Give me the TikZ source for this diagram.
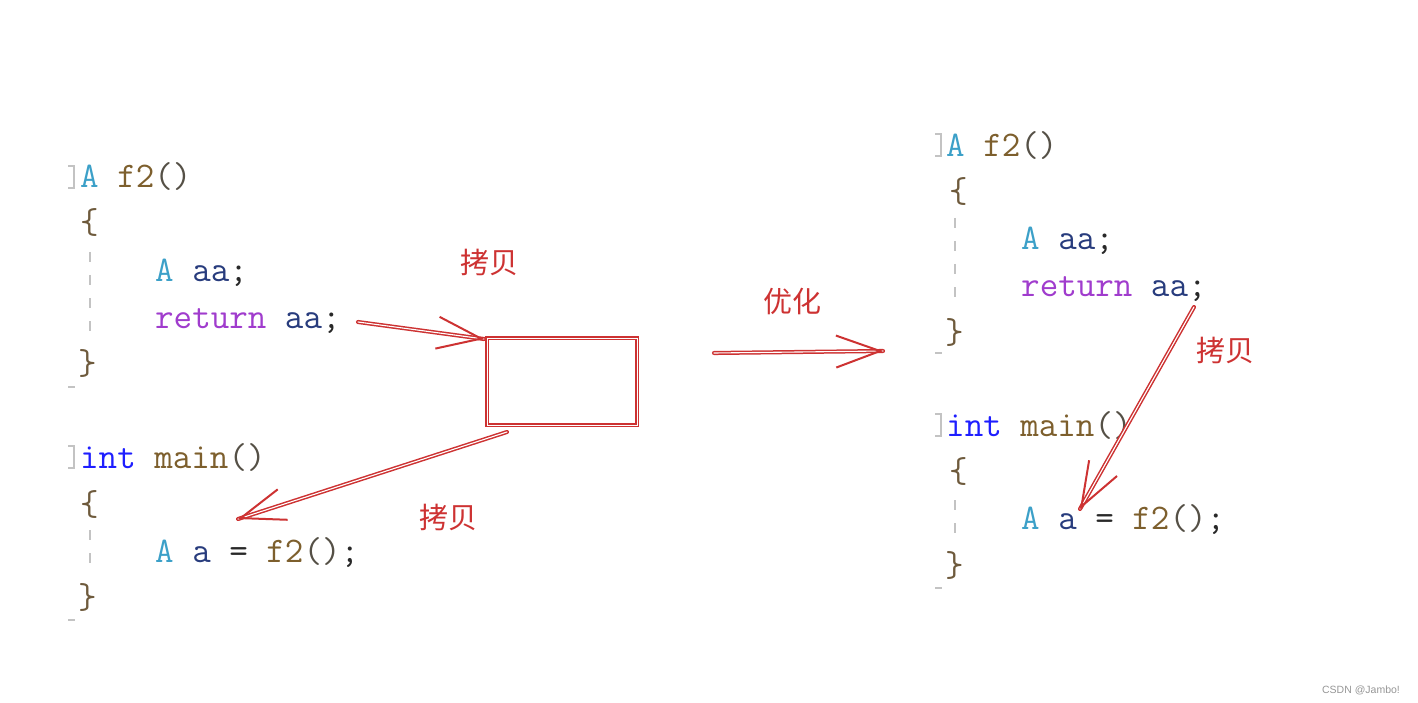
\documentclass[tikz,border=0pt]{standalone}
\usepackage{fontspec}
\newfontfamily\cjk{Noto Sans CJK SC}
\newfontfamily\wmfont{Liberation Sans}
\usetikzlibrary{calc,arrows.meta}
\definecolor{tyc}{RGB}{60,160,200}
\definecolor{fnc}{RGB}{125,95,45}
\definecolor{pc}{RGB}{85,80,70}
\definecolor{vc}{RGB}{40,60,125}
\definecolor{kwc}{RGB}{160,60,205}
\definecolor{intc}{RGB}{30,30,255}
\definecolor{brc}{RGB}{110,90,60}
\definecolor{dk}{RGB}{40,40,40}
\definecolor{gutc}{RGB}{195,195,195}
\definecolor{rd}{RGB}{205,50,50}
\definecolor{wmc}{RGB}{150,150,150}
\tikzset{
  code/.style={anchor=base west, inner sep=0pt, font=\ttfamily\fontsize{36}{36}\selectfont},
  gut/.style={draw=gutc, line width=2.5pt},
  gdash/.style={draw=gutc, line width=2.4pt, dash pattern=on 10pt off 13pt},
  sk/.style={draw=rd, line width=1.5pt, double=white, double distance=1.1pt, line cap=round},
  tipst/.style={draw=rd, line width=2pt, line cap=round, -{Straight Barb[length=44pt,width=32pt,line width=2pt]}},
  lbl/.style={text=rd, font=\cjk\fontsize{29}{29}\selectfont, inner sep=0pt},
  skbox/.style={draw=rd, line width=1.5pt, double=white, double distance=0.6pt, minimum width=150pt, minimum height=87pt, inner sep=0pt},
  wm/.style={text=wmc, font=\wmfont\fontsize{10.5}{10.5}\selectfont, inner sep=0pt},
}
\begin{document}
\begin{tikzpicture}[x=1pt,y=-1pt]
\useasboundingbox (0,0) rectangle (1418,703);
% ---------- left: A f2() ----------
\draw[gut] (68,166) -- (74,166) -- (74,188) -- (68,188);
\node[code] (L1) at (80,188) {\textcolor{tyc}{A} \textcolor{fnc}{f2}\textcolor{pc}{()}};
\node[code] (L2) at (80,234) {\textcolor{brc}{\{}};
\draw[gdash] (90,252) -- (90,340);
\node[code] (L3) at (155,281) {\textcolor{tyc}{A} \textcolor{vc}{aa}\textcolor{dk}{;}};
\node[code] (L4) at (155,328) {\textcolor{kwc}{return} \textcolor{vc}{aa}\textcolor{dk}{;}};
\node[code] (L5) at (78,374) {\textcolor{brc}{\}}};
\draw[gut] (68,387) -- (75,387);
% ---------- left: int main() ----------
\draw[gut] (68,446) -- (74,446) -- (74,468) -- (68,468);
\node[code] (M1) at (80,468) {\textcolor{intc}{int} \textcolor{fnc}{main}\textcolor{pc}{()}};
\node[code] (M2) at (80,515) {\textcolor{brc}{\{}};
\draw[gdash] (90,530) -- (90,575);
\node[code] (M3) at (155,562) {\textcolor{tyc}{A} \textcolor{vc}{a} \textcolor{dk}{=} \textcolor{fnc}{f2}\textcolor{pc}{()}\textcolor{dk}{;}};
\node[code] (M4) at (78,608) {\textcolor{brc}{\}}};
\draw[gut] (68,620) -- (75,620);
% ---------- right: A f2() ----------
\draw[gut] (935,134) -- (941,134) -- (941,156) -- (935,156);
\node[code] (R1) at (946,157) {\textcolor{tyc}{A} \textcolor{fnc}{f2}\textcolor{pc}{()}};
\node[code] (R2) at (949,203) {\textcolor{brc}{\{}};
\draw[gdash] (955,218) -- (955,305);
\node[code] (R3) at (1021,250) {\textcolor{tyc}{A} \textcolor{vc}{aa}\textcolor{dk}{;}};
\node[code] (R4) at (1021,296) {\textcolor{kwc}{return} \textcolor{vc}{aa}\textcolor{dk}{;}};
\node[code] (R5) at (945,343) {\textcolor{brc}{\}}};
\draw[gut] (935,353) -- (942,353);
% ---------- right: int main() ----------
\draw[gut] (935,414) -- (941,414) -- (941,436) -- (935,436);
\node[code] (S1) at (946,436) {\textcolor{intc}{int} \textcolor{fnc}{main}\textcolor{pc}{()}};
\node[code] (S2) at (949,482) {\textcolor{brc}{\{}};
\draw[gdash] (955,500) -- (955,545);
\node[code] (S3) at (1021,529) {\textcolor{tyc}{A} \textcolor{vc}{a} \textcolor{dk}{=} \textcolor{fnc}{f2}\textcolor{pc}{()}\textcolor{dk}{;}};
\node[code] (S4) at (945,576) {\textcolor{brc}{\}}};
\draw[gut] (935,588) -- (942,588);
% ---------- red annotations ----------
\node[skbox] (box) at (562,381.5) {};
\node[lbl] (t1) at (489,262) {拷贝};
\node[lbl] (t2) at (448,517) {拷贝};
\node[lbl] (t3) at (792,301) {优化};
\node[lbl] (t4) at (1225,350) {拷贝};
% connector 1: return aa; -> box
\coordinate (a1s) at (358,322);
\coordinate (a1e) at (484,339);
\draw[sk] (a1s) -- (a1e);
\draw[tipst] ($(a1e)!2pt!(a1s)$) -- (a1e);
% connector 2: box -> A a
\coordinate (a2s) at (507,432);
\coordinate (a2e) at (238,519);
\draw[sk] (a2s) -- (a2e);
\draw[tipst] ($(a2e)!2pt!(a2s)$) -- (a2e);
% connector 3: optimisation
\coordinate (a3s) at (714,353);
\coordinate (a3e) at (883,351);
\draw[sk] (a3s) -- (a3e);
\draw[tipst] ($(a3e)!2pt!(a3s)$) -- (a3e);
% connector 4: right return aa -> A a
\coordinate (a4s) at (1194,307);
\coordinate (a4e) at (1080,509);
\draw[sk] (a4s) -- (a4e);
\draw[tipst] ($(a4e)!2pt!(a4s)$) -- (a4e);
% watermark
\node[wm] (wm) at (1361,690) {CSDN @Jambo!};
\end{tikzpicture}
\end{document}
